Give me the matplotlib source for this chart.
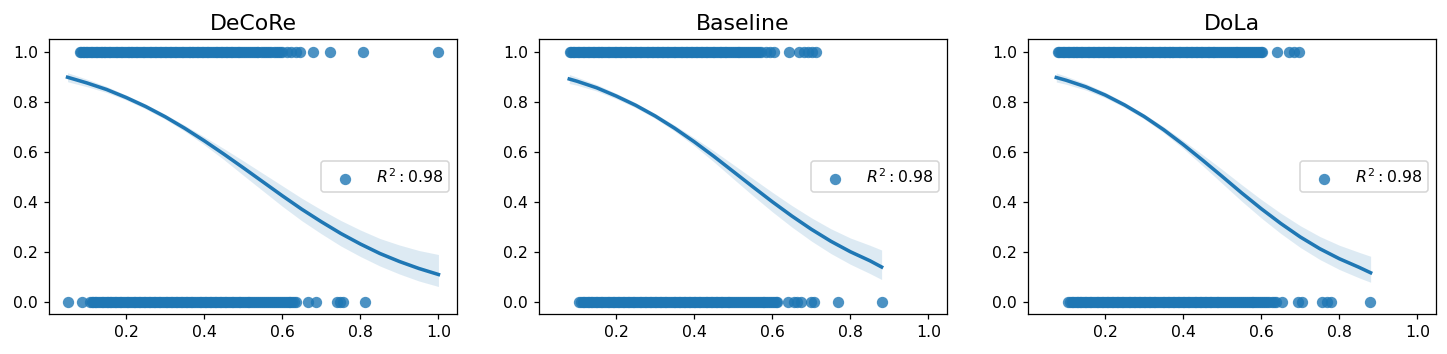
import matplotlib
matplotlib.use("Agg")
import matplotlib.pyplot as plt

titles = ["DeCoRe", "Baseline", "DoLa"]
legend_label = r"$R^2: 0.98$"

# ---- scatter data (x positions of points at y=1 and y=0) ----
decore_top = [0.081, 0.089, 0.096, 0.105, 0.113, 0.122, 0.130, 0.139, 0.147, 0.156, 0.164,
              0.173, 0.182, 0.190, 0.199, 0.208, 0.216, 0.225, 0.234, 0.242, 0.251, 0.260,
              0.268, 0.277, 0.286, 0.294, 0.303, 0.312, 0.320, 0.329, 0.338, 0.346, 0.355,
              0.364, 0.372, 0.381, 0.390, 0.398, 0.407, 0.416, 0.424, 0.433, 0.442, 0.450,
              0.459, 0.468, 0.477, 0.486, 0.495, 0.505, 0.514, 0.524, 0.534, 0.545, 0.556,
              0.567, 0.578, 0.589, 0.600, 0.612, 0.623, 0.634, 0.645, 0.679, 0.721, 0.808,
              0.998]
decore_bot = [0.052, 0.087, 0.108, 0.116, 0.124, 0.133, 0.141, 0.150, 0.158, 0.167, 0.175,
              0.184, 0.193, 0.201, 0.210, 0.219, 0.227, 0.236, 0.245, 0.253, 0.262, 0.271,
              0.279, 0.288, 0.297, 0.305, 0.314, 0.323, 0.331, 0.340, 0.349, 0.357, 0.366,
              0.375, 0.383, 0.392, 0.401, 0.409, 0.418, 0.427, 0.435, 0.444, 0.453, 0.461,
              0.470, 0.479, 0.488, 0.497, 0.507, 0.516, 0.526, 0.536, 0.546, 0.556, 0.566,
              0.576, 0.586, 0.596, 0.606, 0.616, 0.626, 0.636, 0.666, 0.687, 0.740, 0.748,
              0.756, 0.811]

baseline_top = [0.081, 0.089, 0.097, 0.106, 0.114, 0.123, 0.131, 0.140, 0.148, 0.157, 0.165,
                0.174, 0.183, 0.191, 0.200, 0.209, 0.217, 0.226, 0.235, 0.243, 0.252, 0.261,
                0.269, 0.278, 0.287, 0.295, 0.304, 0.313, 0.321, 0.330, 0.339, 0.347, 0.356,
                0.365, 0.373, 0.382, 0.391, 0.399, 0.408, 0.417, 0.425, 0.434, 0.443, 0.451,
                0.460, 0.469, 0.478, 0.487, 0.496, 0.506, 0.516, 0.526, 0.536, 0.546, 0.556,
                0.565, 0.583, 0.593, 0.604, 0.644, 0.668, 0.680, 0.692, 0.702, 0.711]
baseline_bot = [0.106, 0.114, 0.122, 0.131, 0.139, 0.148, 0.156, 0.165, 0.173, 0.182, 0.191,
                0.199, 0.208, 0.217, 0.225, 0.234, 0.243, 0.251, 0.260, 0.269, 0.277, 0.286,
                0.295, 0.303, 0.312, 0.321, 0.329, 0.338, 0.347, 0.355, 0.364, 0.373, 0.381,
                0.390, 0.399, 0.407, 0.416, 0.425, 0.433, 0.442, 0.451, 0.459, 0.468, 0.477,
                0.486, 0.495, 0.505, 0.515, 0.525, 0.535, 0.545, 0.555, 0.565, 0.575, 0.585,
                0.595, 0.605, 0.613, 0.639, 0.655, 0.664, 0.673, 0.700, 0.708, 0.768, 0.880]

dola_top = [0.079, 0.087, 0.095, 0.104, 0.112, 0.121, 0.129, 0.138, 0.146, 0.155, 0.163,
            0.172, 0.181, 0.189, 0.198, 0.207, 0.215, 0.224, 0.233, 0.241, 0.250, 0.259,
            0.267, 0.276, 0.285, 0.293, 0.302, 0.311, 0.319, 0.328, 0.337, 0.345, 0.354,
            0.363, 0.371, 0.380, 0.389, 0.397, 0.406, 0.415, 0.423, 0.432, 0.441, 0.449,
            0.458, 0.467, 0.476, 0.485, 0.494, 0.504, 0.514, 0.524, 0.534, 0.544, 0.554,
            0.564, 0.574, 0.584, 0.594, 0.603, 0.641, 0.671, 0.683, 0.696]
dola_bot = [0.106, 0.114, 0.122, 0.131, 0.139, 0.148, 0.156, 0.165, 0.173, 0.182, 0.191,
            0.199, 0.208, 0.217, 0.225, 0.234, 0.243, 0.251, 0.260, 0.269, 0.277, 0.286,
            0.295, 0.303, 0.312, 0.321, 0.329, 0.338, 0.347, 0.355, 0.364, 0.373, 0.381,
            0.390, 0.399, 0.407, 0.416, 0.425, 0.433, 0.442, 0.451, 0.459, 0.468, 0.477,
            0.486, 0.495, 0.505, 0.515, 0.525, 0.535, 0.545, 0.555, 0.565, 0.575, 0.585,
            0.595, 0.605, 0.615, 0.627, 0.637, 0.654, 0.694, 0.705, 0.756, 0.769, 0.779,
            0.879]

# extra overlapping observations inside the densest stretches
decore_top_extra = [0.085, 0.092, 0.100, 0.109, 0.118, 0.126, 0.135, 0.143, 0.152, 0.160,
                    0.169, 0.177, 0.186, 0.195, 0.204, 0.212, 0.221, 0.229, 0.238, 0.247,
                    0.255, 0.264, 0.273, 0.281, 0.290, 0.299, 0.308, 0.316, 0.325, 0.333,
                    0.342, 0.351, 0.360, 0.368, 0.377, 0.385, 0.394, 0.403, 0.411, 0.420,
                    0.429, 0.437, 0.446, 0.455, 0.464, 0.472, 0.481, 0.490, 0.500, 0.510,
                    0.519, 0.529, 0.539, 0.550, 0.561, 0.572, 0.583, 0.594]
decore_bot_extra = [0.112, 0.120, 0.128, 0.137, 0.145, 0.154, 0.162, 0.171, 0.180, 0.188,
                    0.197, 0.205, 0.214, 0.223, 0.232, 0.240, 0.249, 0.258, 0.266, 0.275,
                    0.284, 0.292, 0.301, 0.310, 0.318, 0.327, 0.336, 0.344, 0.353, 0.362,
                    0.370, 0.379, 0.388, 0.396, 0.405, 0.414, 0.422, 0.431, 0.440, 0.448,
                    0.457, 0.466, 0.474, 0.483, 0.492, 0.502, 0.511, 0.521, 0.531, 0.541,
                    0.551, 0.561, 0.571, 0.581, 0.591, 0.601, 0.611, 0.621, 0.631]
baseline_top_extra = [0.085, 0.093, 0.102, 0.110, 0.119, 0.127, 0.136, 0.144, 0.153, 0.161,
                      0.170, 0.178, 0.187, 0.196, 0.204, 0.213, 0.222, 0.230, 0.239, 0.248,
                      0.256, 0.265, 0.274, 0.282, 0.291, 0.300, 0.308, 0.317, 0.326, 0.334,
                      0.343, 0.352, 0.360, 0.369, 0.378, 0.386, 0.395, 0.404, 0.412, 0.421,
                      0.430, 0.438, 0.447, 0.456, 0.465, 0.473, 0.482, 0.491, 0.501, 0.511,
                      0.521, 0.531, 0.541, 0.551, 0.561, 0.570]
baseline_bot_extra = [0.110, 0.118, 0.127, 0.135, 0.144, 0.152, 0.161, 0.169, 0.178, 0.187,
                      0.195, 0.204, 0.212, 0.221, 0.230, 0.238, 0.247, 0.256, 0.264, 0.273,
                      0.282, 0.290, 0.299, 0.308, 0.316, 0.325, 0.334, 0.342, 0.351, 0.360,
                      0.368, 0.377, 0.386, 0.394, 0.403, 0.412, 0.420, 0.429, 0.438, 0.446,
                      0.455, 0.464, 0.472, 0.481, 0.490, 0.500, 0.510, 0.520, 0.530, 0.540,
                      0.550, 0.560, 0.570, 0.580, 0.590, 0.600, 0.609]
dola_top_extra = [0.083, 0.091, 0.100, 0.108, 0.117, 0.125, 0.134, 0.142, 0.151, 0.159,
                  0.168, 0.176, 0.185, 0.194, 0.202, 0.211, 0.220, 0.228, 0.237, 0.246,
                  0.254, 0.263, 0.271, 0.280, 0.289, 0.298, 0.306, 0.315, 0.323, 0.332,
                  0.341, 0.350, 0.358, 0.367, 0.375, 0.384, 0.393, 0.402, 0.410, 0.419,
                  0.428, 0.436, 0.445, 0.454, 0.463, 0.471, 0.480, 0.489, 0.499, 0.509,
                  0.519, 0.529, 0.539, 0.549, 0.559, 0.569, 0.579, 0.589, 0.598]
dola_bot_extra = [0.110, 0.118, 0.127, 0.135, 0.144, 0.152, 0.161, 0.169, 0.178, 0.187,
                  0.195, 0.204, 0.212, 0.221, 0.230, 0.238, 0.247, 0.256, 0.264, 0.273,
                  0.282, 0.290, 0.299, 0.308, 0.316, 0.325, 0.334, 0.342, 0.351, 0.360,
                  0.368, 0.377, 0.386, 0.394, 0.403, 0.412, 0.420, 0.429, 0.438, 0.446,
                  0.455, 0.464, 0.472, 0.481, 0.490, 0.500, 0.510, 0.520, 0.530, 0.540,
                  0.550, 0.560, 0.570, 0.580, 0.590, 0.600, 0.610, 0.621, 0.632]

# ---- fitted logistic curve and confidence band ----
decore_cx = [0.05, 0.10, 0.15, 0.20, 0.25, 0.30, 0.35, 0.40, 0.45, 0.50,
             0.55, 0.60, 0.65, 0.70, 0.75, 0.80, 0.85, 0.90, 0.95, 1.00]
decore_cy = [0.897, 0.874, 0.848, 0.816, 0.780, 0.739, 0.693, 0.643, 0.590, 0.535,
             0.479, 0.423, 0.369, 0.319, 0.272, 0.230, 0.192, 0.160, 0.132, 0.108]
decore_hi = [0.915, 0.889, 0.860, 0.826, 0.790, 0.749, 0.705, 0.659, 0.612, 0.563,
             0.513, 0.463, 0.413, 0.367, 0.324, 0.286, 0.252, 0.226, 0.204, 0.188]
decore_lo = [0.879, 0.859, 0.836, 0.806, 0.770, 0.729, 0.681, 0.627, 0.568, 0.505,
             0.443, 0.381, 0.323, 0.271, 0.222, 0.180, 0.142, 0.110, 0.082, 0.060]

baseline_cx = [0.08, 0.10, 0.15, 0.20, 0.25, 0.30, 0.35, 0.40, 0.45, 0.50,
               0.55, 0.60, 0.65, 0.70, 0.75, 0.80, 0.85, 0.88]
baseline_cy = [0.890, 0.881, 0.855, 0.822, 0.785, 0.742, 0.693, 0.639, 0.581, 0.520,
               0.459, 0.399, 0.342, 0.289, 0.241, 0.199, 0.163, 0.138]
baseline_hi = [0.908, 0.897, 0.868, 0.833, 0.795, 0.752, 0.705, 0.655, 0.603, 0.548,
               0.492, 0.437, 0.384, 0.335, 0.291, 0.254, 0.225, 0.206]
baseline_lo = [0.872, 0.865, 0.842, 0.811, 0.775, 0.732, 0.681, 0.623, 0.559, 0.491,
               0.424, 0.359, 0.298, 0.242, 0.192, 0.149, 0.112, 0.088]

dola_cx = [0.075, 0.10, 0.15, 0.20, 0.25, 0.30, 0.35, 0.40, 0.45, 0.50,
           0.55, 0.60, 0.65, 0.70, 0.75, 0.80, 0.85, 0.88]
dola_cy = [0.896, 0.885, 0.859, 0.826, 0.786, 0.740, 0.687, 0.628, 0.565, 0.500,
           0.434, 0.371, 0.312, 0.258, 0.211, 0.171, 0.137, 0.115]
dola_hi = [0.914, 0.901, 0.872, 0.837, 0.796, 0.750, 0.699, 0.644, 0.587, 0.528,
           0.467, 0.408, 0.353, 0.303, 0.260, 0.225, 0.197, 0.181]
dola_lo = [0.878, 0.869, 0.846, 0.815, 0.776, 0.730, 0.675, 0.612, 0.543, 0.472,
           0.401, 0.334, 0.272, 0.216, 0.168, 0.128, 0.095, 0.077]

panels = [
    (decore_top + decore_top_extra, decore_bot + decore_bot_extra,
     decore_cx, decore_cy, decore_lo, decore_hi),
    (baseline_top + baseline_top_extra, baseline_bot + baseline_bot_extra,
     baseline_cx, baseline_cy, baseline_lo, baseline_hi),
    (dola_top + dola_top_extra, dola_bot + dola_bot_extra,
     dola_cx, dola_cy, dola_lo, dola_hi),
]

C = "#1f77b4"
W, H, DPI = 1447, 354, 113
fig = plt.figure(figsize=(W / DPI, H / DPI), dpi=DPI)
lefts = [49, 539, 1028]

for left, title, (top, bot, cx, cy, lo, hi) in zip(lefts, titles, panels):
    ax = fig.add_axes([left / W, 40 / H, 408 / W, 275 / H])
    xs = top + bot
    ys = [1.0] * len(top) + [0.0] * len(bot)
    ax.scatter(xs, ys, s=52, color=C, alpha=0.8, linewidths=0, label=legend_label)
    ax.fill_between(cx, lo, hi, color=C, alpha=0.15, linewidth=0)
    ax.plot(cx, cy, color=C, lw=2.25)
    ax.set_xlim(0.0025, 1.0475)
    ax.set_ylim(-0.05, 1.05)
    ax.set_xticks([0.2, 0.4, 0.6, 0.8, 1.0])
    ax.set_yticks([0.0, 0.2, 0.4, 0.6, 0.8, 1.0])
    ax.set_title(title, fontsize=14)
    ax.legend(loc="center right", handlelength=2.3)

fig.savefig("out.png", dpi=DPI)
